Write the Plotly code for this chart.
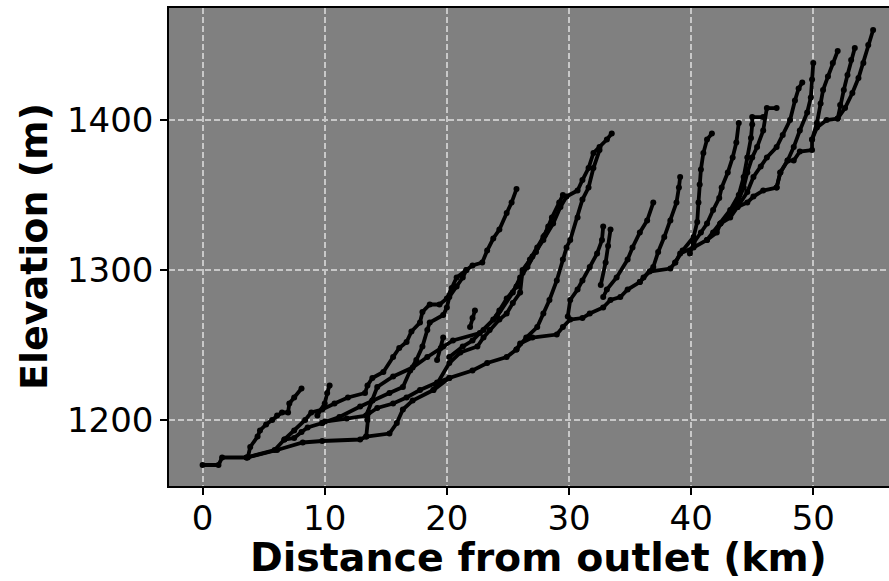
import plotly.graph_objects as go

# Longitudinal channel profiles: distance from outlet (km) and bed elevation (m)
trunk_km = [0, 1.3, 1.6, 3.6, 6.1, 8.2, 9.8, 12.9, 13.4, 15.3, 15.9, 16.4, 17.2, 18.9, 20.2, 22.1,
            23.3, 24.9, 25.7, 26.0, 27.0, 29.0, 29.5, 30.1, 31.1, 31.7, 32.8, 33.4, 34.2, 34.8,
            35.8, 36.6, 38.3, 38.7, 39.1, 40.2, 41.3, 42.1, 42.4, 43.2, 43.8, 44.6, 45.1, 45.9,
            47.0, 47.3, 47.9, 48.4, 48.9, 49.9, 49.9, 50.3, 51.1, 52.0, 52.6, 53.2, 53.7, 54.1,
            54.5, 54.9]
trunk_m = [1170, 1170, 1175, 1175, 1180, 1185, 1186, 1187, 1189, 1191, 1198, 1207, 1213, 1220, 1228,
           1233, 1238, 1242, 1247, 1251, 1255, 1257, 1262, 1267, 1268, 1271, 1275, 1280, 1282,
           1287, 1292, 1299, 1301, 1305, 1311, 1315, 1320, 1325, 1331, 1335, 1342, 1345, 1349,
           1353, 1355, 1365, 1373, 1373, 1379, 1380, 1387, 1395, 1400, 1401, 1408, 1418, 1428,
           1438, 1450, 1460]

t1_km = [3.7, 3.9, 4.5, 4.7, 5.2, 5.7, 6.1, 6.5, 7.0, 7.1, 7.5, 8.1]
t1_m = [1175, 1182, 1189, 1193, 1197, 1200, 1203, 1205, 1205, 1211, 1215, 1221]

t2_km = [3.6, 5.9, 6.7, 7.5, 8.1, 8.6, 9.8, 10.0, 11.8, 13.4, 14.3, 15.6, 16.7, 17.8, 19.2, 20.2]
t2_m = [1175, 1180, 1187, 1188, 1192, 1195, 1198, 1199, 1201, 1203, 1208, 1211, 1215, 1220, 1225, 1228]

t3_km = [6.7, 7.5, 8.4, 8.9, 9.8, 10.8, 11.9, 13.3, 13.5, 13.9, 14.8, 15.6, 16.1, 16.7, 17.1, 17.8,
         18.0, 18.6, 19.4, 20.0, 20.4, 20.8, 21.6, 22.1, 22.9, 23.3, 23.8, 24.3, 24.9, 25.3, 25.7]
t3_m = [1187, 1193, 1200, 1205, 1207, 1211, 1215, 1218, 1223, 1228, 1232, 1242, 1248, 1252, 1259, 1265,
        1272, 1277, 1277, 1281, 1288, 1295, 1300, 1303, 1305, 1313, 1321, 1327, 1338, 1345, 1354]

t4_km = [9.8, 11.2, 12.9, 13.9, 15.3, 16.4, 17.0, 17.5, 18.0, 18.4, 18.6, 19.7, 20.0, 20.2, 20.8,
         21.3, 21.6]
t4_m = [1198, 1202, 1209, 1213, 1218, 1222, 1233, 1240, 1249, 1260, 1265, 1270, 1275, 1282, 1289,
        1295, 1300]

t5_km = [13.4, 13.9, 14.3, 15.6, 17.2, 18.4, 19.7, 20.5, 22.7, 24.1, 25.4, 26.0, 26.6, 27.3, 28.0,
         28.6, 29.2, 29.5]
t5_m = [1203, 1213, 1222, 1229, 1235, 1242, 1249, 1253, 1258, 1269, 1285, 1295, 1302, 1312, 1323,
        1335, 1345, 1350]

t6_km = [18.9, 20.2, 21.1, 22.5, 23.0, 23.5, 24.3, 24.9, 25.4, 26.0, 26.2, 27.0, 27.9, 28.7, 29.3,
         29.8, 30.7, 31.1, 31.6, 32.0, 32.5, 33.1, 33.5]
t6_m = [1220, 1238, 1245, 1249, 1255, 1260, 1267, 1271, 1278, 1285, 1300, 1309, 1320, 1331, 1342,
        1349, 1353, 1360, 1368, 1378, 1382, 1387, 1391]

t7_km = [25.7, 26.5, 27.4, 27.9, 28.4, 29.0, 29.5, 29.8, 30.1, 30.7, 31.1, 31.6, 32.0, 32.5]
t7_m = [1247, 1255, 1262, 1271, 1280, 1293, 1307, 1315, 1320, 1335, 1347, 1355, 1368, 1380]

t8_km = [20.2, 21.3, 22.1, 23.0, 23.8, 24.3, 24.9, 25.7, 26.2, 26.8, 27.4, 27.9, 28.3]
t8_m = [1242, 1249, 1253, 1260, 1267, 1273, 1281, 1289, 1298, 1307, 1315, 1322, 1329]

t9_km = [9.4, 10.0, 10.2, 10.4]
t9_m = [1203, 1211, 1218, 1223]

t10_km = [13.4, 13.5, 13.6]
t10_m = [1189, 1200, 1205]

t11_km = [19.2, 19.5, 19.7]
t11_m = [1240, 1248, 1255]

t12_km = [21.9, 22.1, 22.3]
t12_m = [1262, 1268, 1273]

t13_km = [29.9, 30.1, 30.7, 31.1, 31.7, 32.3, 32.7, 32.8]
t13_m = [1269, 1280, 1287, 1293, 1302, 1311, 1320, 1329]

t14_km = [32.6, 33.0, 33.2, 33.4]
t14_m = [1290, 1305, 1316, 1327]

t15_km = [32.8, 33.1, 33.9, 34.8, 35.2, 35.8, 36.4, 36.9]
t15_m = [1282, 1287, 1295, 1307, 1315, 1325, 1333, 1345]

t16_km = [35.8, 36.1, 36.9, 37.3, 37.8, 38.3, 38.8, 39.0, 39.1]
t16_m = [1292, 1295, 1302, 1312, 1322, 1333, 1345, 1355, 1362]

t17_km = [38.7, 39.3, 40.2, 40.5, 40.6, 40.7, 40.8, 41.0, 41.3, 41.7]
t17_m = [1305, 1313, 1322, 1332, 1345, 1357, 1367, 1378, 1387, 1391]

t18_km = [39.9, 40.2, 40.8, 41.3, 41.8, 42.3, 42.5, 43.0, 43.4, 43.7, 43.9]
t18_m = [1311, 1318, 1325, 1331, 1340, 1348, 1355, 1365, 1375, 1385, 1398]

t19_km = [41.3, 41.8, 42.4, 43.2, 43.9, 44.3, 44.6, 44.9, 45.0, 45.0, 45.9]
t19_m = [1320, 1325, 1331, 1340, 1350, 1362, 1375, 1388, 1397, 1402, 1402]

t20_km = [42.4, 43.2, 43.8, 44.3, 44.6, 45.0, 45.4, 45.9, 46.2, 47.0]
t20_m = [1331, 1338, 1345, 1355, 1365, 1375, 1382, 1393, 1408, 1408]

t21_km = [43.8, 44.6, 45.1, 45.7, 46.2, 47.0, 47.5, 48.1, 48.5, 48.8, 49.1]
t21_m = [1342, 1352, 1362, 1369, 1375, 1382, 1390, 1400, 1413, 1421, 1425]

t22_km = [47.0, 47.3, 47.9, 48.4, 48.9, 49.5, 49.8, 49.9, 50.0]
t22_m = [1355, 1365, 1373, 1382, 1393, 1405, 1415, 1427, 1438]

t23_km = [49.9, 50.3, 50.6, 50.8, 51.2, 51.6, 52.0]
t23_m = [1387, 1398, 1411, 1420, 1429, 1438, 1446]

t24_km = [52.0, 52.2, 52.5, 52.8, 53.1, 53.4]
t24_m = [1401, 1410, 1420, 1430, 1440, 1448]

profiles = [
    (trunk_km, trunk_m), (t1_km, t1_m), (t2_km, t2_m), (t3_km, t3_m), (t4_km, t4_m),
    (t5_km, t5_m), (t6_km, t6_m), (t7_km, t7_m), (t8_km, t8_m), (t9_km, t9_m),
    (t10_km, t10_m), (t11_km, t11_m), (t12_km, t12_m), (t13_km, t13_m), (t14_km, t14_m),
    (t15_km, t15_m), (t16_km, t16_m), (t17_km, t17_m), (t18_km, t18_m), (t19_km, t19_m),
    (t20_km, t20_m), (t21_km, t21_m), (t22_km, t22_m), (t23_km, t23_m), (t24_km, t24_m),
]

x_ticks = [0, 10, 20, 30, 40, 50]
y_ticks = [1200, 1300, 1400]

fig = go.Figure()
for km, m in profiles:
    fig.add_trace(go.Scatter(
        x=km, y=m, mode="lines+markers",
        line=dict(color="black", width=3.8),
        marker=dict(color="black", size=6),
        showlegend=False, hoverinfo="skip",
    ))

FONT = "DejaVu Sans"
axis_common = dict(
    showline=True, linecolor="black", linewidth=1.5,
    ticks="outside", ticklen=7, tickwidth=1.5, tickcolor="black",
    tickfont=dict(family=FONT, size=34, color="black"),
    showgrid=True, gridcolor="#c8c8c8", gridwidth=1.5, griddash="6px,3px",
    zeroline=False,
)

fig.update_layout(
    width=889, height=581,
    margin=dict(l=169, r=0, t=8, b=95),
    paper_bgcolor="white", plot_bgcolor="#808080",
    xaxis=dict(range=[-2.75, 56.2], tickvals=x_ticks, mirror=True,
               ticklabelstandoff=-6, **axis_common),
    yaxis=dict(range=[1156, 1474.7], tickvals=y_ticks, mirror=False, **axis_common),
    annotations=[
        dict(text="<b>Distance from outlet (km)</b>", xref="paper", yref="paper",
             x=(538 - 169) / 720, y=(486 - 557) / 478, xanchor="center", yanchor="middle",
             showarrow=False, font=dict(family=FONT, size=39.5, color="black")),
        dict(text="<b>Elevation (m)</b>", xref="paper", yref="paper",
             x=(34 - 169) / 720, y=0.5, xanchor="center", yanchor="middle",
             textangle=-90, showarrow=False, font=dict(family=FONT, size=38, color="black")),
    ],
)

fig.write_html("out.html")
